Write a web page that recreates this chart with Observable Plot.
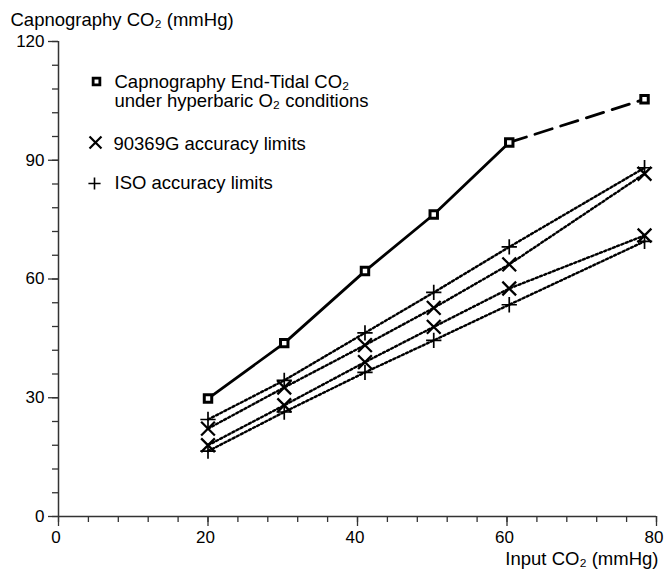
<!DOCTYPE html>
<html>
<head>
<meta charset="utf-8">
<script src="https://cdn.jsdelivr.net/npm/d3@7"></script>
<script src="https://cdn.jsdelivr.net/npm/@observablehq/plot@0.6"></script>
<style>
  html, body { margin: 0; padding: 0; background: #fff; }
  #chart svg { display: block; }
</style>
</head>
<body>
<div id="chart"></div>
<script>
// ---- data ----
const inputCO2    = [20, 30.2, 41, 50.2, 60.3, 78.4];
const etco2       = [29.8, 43.8, 62.0, 76.3, 94.5, 105.4];
const g90369Upper = [22.2, 32.6, 43.3, 52.7, 63.7, 86.6];
const g90369Lower = [18.0, 28.1, 39.0, 47.9, 57.6, 71.0];
const isoUpper    = [24.5, 34.4, 46.4, 56.6, 68.1, 88.1];
const isoLower    = [16.5, 26.4, 36.4, 44.5, 53.5, 69.5];

const xMajorTicks = [0, 20, 40, 60, 80];
const xMinorTicks = d3.range(0, 81, 4);
const yMajorTicks = [0, 30, 60, 90, 120];
const yMinorTicks = d3.range(0, 121, 6);

const yTitle = "Capnography CO\u2082 (mmHg)";
const xTitle = "Input CO\u2082 (mmHg)";
const legendLabels = [
  "Capnography End-Tidal CO\u2082",
  "under hyperbaric O\u2082 conditions",
  "90369G accuracy limits",
  "ISO accuracy limits"
];

// build tables
const pts = (ys) => inputCO2.map((x, i) => ({x, y: ys[i]}));
const etPts = pts(etco2);
const etSolid = etPts.slice(0, 5);
const etDashed = etPts.slice(4);
const gU = pts(g90369Upper), gL = pts(g90369Lower);
const iU = pts(isoUpper), iL = pts(isoLower);

const ink = "#000";
const axisInk = "#333";
const dotted = {x: "x", y: "y", stroke: ink, strokeWidth: 2.4, strokeDasharray: "2.2,2.4"};
const txt = 18.5;
const T = {textAnchor: "start", lineAnchor: "middle", fontSize: txt};

const chart = Plot.plot({
  width: 664,
  height: 569,
  marginTop: 41,
  marginRight: 8,
  marginBottom: 53,
  marginLeft: 58,
  style: {fontFamily: "'Liberation Sans', Arial, sans-serif", fontSize: "17px", color: "#000", background: "#fff"},
  x: {domain: [0, 80]},
  y: {domain: [0, 120]},
  marks: [
    // axes
    Plot.axisX(xMinorTicks, {tickSize: 6, text: null, label: null, stroke: axisInk, strokeWidth: 1.3}),
    Plot.axisX(xMajorTicks, {tickSize: 10, text: null, label: null, stroke: axisInk, strokeWidth: 1.3}),
    Plot.axisX(xMajorTicks, {tickSize: 0, tickPadding: 14, dx: -2.5, fontSize: 17, label: null}),
    Plot.axisY(yMinorTicks, {tickSize: 6, text: null, label: null, stroke: axisInk, strokeWidth: 1.3}),
    Plot.axisY(yMajorTicks, {tickSize: 10, tickPadding: 4, stroke: axisInk, strokeWidth: 1.3, fontSize: 17, label: null}),
    Plot.ruleY([0], {stroke: axisInk, strokeWidth: 1.5}),
    Plot.ruleX([0], {stroke: axisInk, strokeWidth: 1.5}),

    // titles
    Plot.text([yTitle], {...T, frameAnchor: "top-left", dx: -48, dy: -21}),
    Plot.text([xTitle], {...T, textAnchor: "end", frameAnchor: "bottom-right", dx: 2, dy: 42.5}),

    // limit lines (dotted)
    Plot.line(iU, dotted),
    Plot.line(gU, dotted),
    Plot.line(gL, dotted),
    Plot.line(iL, dotted),

    // ETCO2 line
    Plot.line(etSolid, {x: "x", y: "y", stroke: ink, strokeWidth: 2.8}),
    Plot.line(etDashed, {x: "x", y: "y", stroke: ink, strokeWidth: 2.8, strokeDasharray: "18,9"}),

    // markers
    Plot.dot(iU, {x: "x", y: "y", symbol: "plus", r: 5, stroke: ink, strokeWidth: 1.7}),
    Plot.dot(iL, {x: "x", y: "y", symbol: "plus", r: 5, stroke: ink, strokeWidth: 1.7}),
    Plot.dot(gU, {x: "x", y: "y", symbol: "times", r: 6.3, stroke: ink, strokeWidth: 2.3}),
    Plot.dot(gL, {x: "x", y: "y", symbol: "times", r: 6.3, stroke: ink, strokeWidth: 2.3}),
    Plot.dot(etPts, {x: "x", y: "y", symbol: "square", r: 4.2, fill: "#fff", stroke: ink, strokeWidth: 3}),

    // legend
    Plot.dot([0], {frameAnchor: "top-left", dx: 38, dy: 40, symbol: "square", r: 3.8, fill: "#fff", stroke: ink, strokeWidth: 2.8}),
    Plot.dot([0], {frameAnchor: "top-left", dx: 37, dy: 101, symbol: "times", r: 5.5, stroke: ink, strokeWidth: 2.2}),
    Plot.dot([0], {frameAnchor: "top-left", dx: 36, dy: 142, symbol: "plus", r: 4, stroke: ink, strokeWidth: 1.6}),
    Plot.text([legendLabels[0]], {...T, frameAnchor: "top-left", dx: 56, dy: 41}),
    Plot.text([legendLabels[1]], {...T, frameAnchor: "top-left", dx: 56, dy: 60}),
    Plot.text([legendLabels[2]], {...T, frameAnchor: "top-left", dx: 55, dy: 103}),
    Plot.text([legendLabels[3]], {...T, frameAnchor: "top-left", dx: 56, dy: 142})
  ]
});

document.getElementById("chart").appendChild(chart);
</script>
</body>
</html>
